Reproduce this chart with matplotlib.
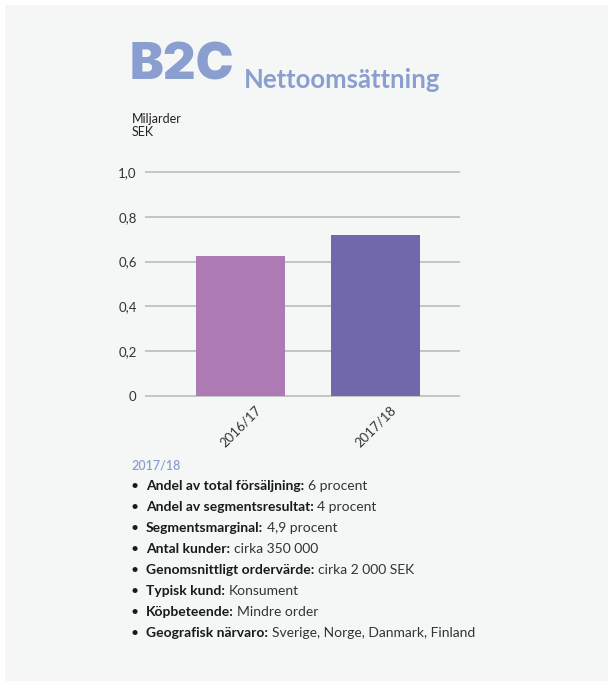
import matplotlib
matplotlib.use("Agg")
import matplotlib.pyplot as plt
from matplotlib.patches import Rectangle

# data
periods = ["2016/17", "2017/18"]
sales = [0.625, 0.72]
bar_colors = ["#ad7ab3", "#6f68a9"]
y_ticks = [0, 0.2, 0.4, 0.6, 0.8, 1.0]
y_tick_labels = ["0", "0,2", "0,4", "0,6", "0,8", "1,0"]

facts_year = "2017/18"
fact_keys = [
    "Andel av total försäljning:",
    "Andel av segmentsresultat:",
    "Segmentsmarginal:",
    "Antal kunder:",
    "Genomsnittligt ordervärde:",
    "Typisk kund:",
    "Köpbeteende:",
    "Geografisk närvaro:",
]
fact_values = [
    "6 procent",
    "4 procent",
    "4,9 procent",
    "cirka 350 000",
    "cirka 2 000 SEK",
    "Konsument",
    "Mindre order",
    "Sverige, Norge, Danmark, Finland",
]

FONT = "Lato"
BG = "#f5f6f6"
ACCENT = "#8a9fd0"
W, H = 613, 686

plt.rcParams["font.family"] = [FONT, "DejaVu Sans"]

fig = plt.figure(figsize=(W / 100, H / 100), dpi=100, facecolor="white")
fig.patches.append(Rectangle((5 / W, 5 / H), 603 / W, 676 / H,
                             transform=fig.transFigure, facecolor=BG,
                             edgecolor="none", zorder=-10))


def fx(px):
    return px / W


def fy(py):
    return 1 - py / H


# title
fig.text(fx(130), fy(79.5), "B2C", fontsize=36.5, fontweight=900,
         family=["Inter", "DejaVu Sans"], color=ACCENT, va="baseline",
         ha="left")
fig.text(fx(244), fy(88.5), "Nettoomsättning", fontsize=18.5,
         fontweight="bold", color=ACCENT, va="baseline", ha="left")
fig.text(fx(132), fy(113), "Miljarder\nSEK", fontsize=9, color="#222222",
         va="top", ha="left", linespacing=1.1)

# chart
ax = fig.add_axes([fx(145), fy(398.24), (460 - 145) / W, (398.24 - 169.76) / H])
ax.set_facecolor("none")
x = list(range(len(periods)))
ax.bar(x, sales, width=0.66, color=bar_colors, zorder=3)
ax.set_xlim(-0.707, 1.626)
ax.set_ylim(-0.01, 1.01)
ax.set_yticks(y_ticks)
ax.set_yticklabels(y_tick_labels)
ax.yaxis.grid(True, color="#c0c0c0", linewidth=1.3, zorder=0)
ax.set_xticks(x)
ax.set_xticklabels(periods, rotation=45, ha="center", va="top")
ax.tick_params(axis="both", length=0, labelsize=9.5, colors="#333333")
ax.tick_params(axis="y", pad=6)
ax.tick_params(axis="x", pad=4)
for s in ax.spines.values():
    s.set_visible(False)

# facts list
fig.text(fx(131), fy(465), facts_year, fontsize=9, fontweight=600,
         color=ACCENT, va="center", ha="left")
renderer = fig.canvas.get_renderer()
y0 = 485.5
step = 21.1
for i, (k, v) in enumerate(zip(fact_keys, fact_values)):
    yy = fy(y0 + i * step)
    fig.text(fx(131), yy, "•", fontsize=10, color="#1a1a1a", va="center",
             ha="left")
    t = fig.text(fx(146), yy, k, fontsize=10, fontweight="bold",
                 color="#1a1a1a", va="center", ha="left")
    bb = t.get_window_extent(renderer)
    fig.text(bb.x1 / W + fx(3.5), yy, v, fontsize=10, color="#333333",
             va="center", ha="left")

fig.savefig("out.png", dpi=100, facecolor=fig.get_facecolor())
